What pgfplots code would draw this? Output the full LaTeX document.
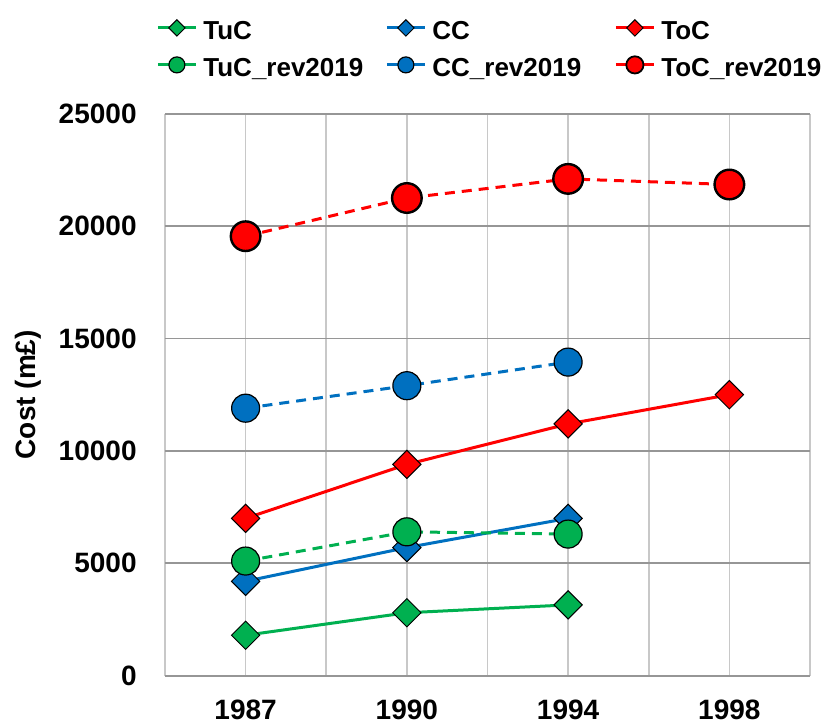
\documentclass[border=0pt]{standalone}
\usepackage{pgfplots}
\pgfplotsset{compat=1.18}
\usepackage{fontspec}
\setmainfont{Liberation Sans}

\definecolor{tucgreen}{RGB}{0,176,80}
\definecolor{ccblue}{RGB}{0,112,192}
\definecolor{tocred}{RGB}{255,0,0}
\definecolor{hgrid}{RGB}{150,150,150}
\definecolor{vgrid}{RGB}{200,200,200}

\pgfplotsset{
  diam/.style={mark=square*, mark size=5pt,
    mark options={rotate=45, draw=black, line width=0.5pt, solid}},
  circ/.style={mark=*, mark size=7pt,
    mark options={draw=black, line width=0.6pt, solid}},
  bigcirc/.style={mark=*, mark size=7.4pt,
    mark options={draw=black, line width=1.2pt, solid}},
  series/.style={line width=1.5pt},
  revdash/.style={dash pattern=on 5pt off 3.5pt},
}

\newcommand\lgd[1]{\makebox[91pt][l]{\rule[-3pt]{0pt}{16pt}#1}}

\begin{document}
\begin{tikzpicture}
\begin{axis}[
  at={(0pt,0pt)}, anchor=south west,
  scale only axis,
  width=322.5pt, height=281pt,
  xmin=0.5, xmax=4.5,
  ymin=0, ymax=25000,
  xtick={1,2,3,4},
  xticklabels={1987,1990,1994,1998},
  minor xtick={0.5,1.5,2.5,3.5,4.5},
  ytick={0,5000,10000,15000,20000,25000},
  scaled y ticks=false,
  xmajorgrids, xminorgrids, ymajorgrids,
  major x grid style={draw=vgrid, line width=0.8pt},
  minor x grid style={draw=vgrid, line width=0.8pt},
  major y grid style={draw=hgrid, line width=0.9pt},
  axis line style={draw=none},
  major tick length=0pt, minor tick length=0pt,
  tick label style={font=\fontsize{14}{17}\selectfont\bfseries},
  /pgf/number format/assume math mode=true,
  /pgf/number format/1000 sep={},
  every x tick label/.append style={inner sep=0pt, anchor=north, yshift=-12pt},
  every y tick label/.append style={inner sep=0pt, anchor=east, xshift=-14pt},
  ylabel={Cost (m£)},
  every axis y label/.style={at={(axis description cs:0,0.5)}, rotate=90,
    anchor=center, yshift=68.5pt, font=\fontsize{14}{17}\selectfont\bfseries},
  legend columns=3,
  legend image code/.code={\draw[mark repeat=2,mark phase=2,#1]
    plot coordinates {(0pt,0pt) (9.5pt,0pt) (19pt,0pt)};},
  legend style={draw=none, fill=none, inner sep=0pt,
    at={(axis description cs:0,1)}, anchor=north west,
    xshift=-4.5pt, yshift=50.35pt,
    font=\fontsize{13}{15}\selectfont\bfseries,
    nodes={inner sep=0pt},
    row sep=4pt, column sep=0pt,
    /tikz/every odd column/.append style={column sep=3pt},
    cells={anchor=west}},
]
% measured series
\addplot[series, tucgreen, diam, forget plot] coordinates {(1,1800) (2,2800) (3,3150)};
\addplot[series, ccblue, diam, forget plot] coordinates {(1,4200) (2,5700) (3,7000)};
\addplot[series, tocred, diam, forget plot] coordinates {(1,7000) (2,9400) (3,11200) (4,12500)};
% revised 2019 series
\addplot[series, revdash, tucgreen, circ, forget plot] coordinates {(1,5100) (2,6400) (3,6300)};
\addplot[series, revdash, ccblue, circ, forget plot] coordinates {(1,11900) (2,12900) (3,13950)};
\addplot[series, revdash, tocred, bigcirc, forget plot] coordinates {(1,19550) (2,21250) (3,22100) (4,21850)};

% legend keys with smaller marks
\addlegendimage{series, tucgreen, diam, mark size=2.9pt}
\addlegendentry{\lgd{TuC}}
\addlegendimage{series, ccblue, diam, mark size=2.9pt}
\addlegendentry{\lgd{CC}}
\addlegendimage{series, tocred, diam, mark size=2.9pt}
\addlegendentry{\lgd{ToC}}
\addlegendimage{series, tucgreen, circ, mark size=4pt}
\addlegendentry{\lgd{TuC\_rev2019}}
\addlegendimage{series, ccblue, circ, mark size=4pt}
\addlegendentry{\lgd{CC\_rev2019}}
\addlegendimage{series, tocred, bigcirc, mark size=4.3pt, mark options={draw=black, line width=0.9pt, solid}}
\addlegendentry{\lgd{ToC\_rev2019}}
\end{axis}
\pgfresetboundingbox
\path[use as bounding box] (-82.5pt,-23.65pt) rectangle (330.5pt,337.85pt);
\end{tikzpicture}
\end{document}
